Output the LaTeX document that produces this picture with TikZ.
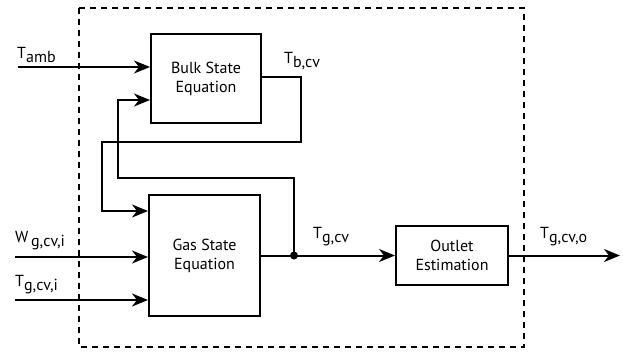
\documentclass[tikz,border=0pt]{standalone}
\usepackage{fontspec}
\setmainfont{PT Sans}
\usepackage{tikz}
\usetikzlibrary{arrows.meta, positioning}

\newcommand{\lowsub}[2]{#1\raisebox{-0.5ex}{#2}}

\begin{document}
\begin{tikzpicture}[
    x=1pt, y=-1pt,
    block/.style={draw, line width=2pt, rectangle, align=center, inner sep=0pt, font=\fontsize{16}{19}\selectfont},
    signal/.style={inner sep=0pt, anchor=south west, font=\fontsize{16}{19}\selectfont},
    flow/.style={-{Stealth[length=16pt, width=13pt, inset=5pt]}, line width=2pt},
    wire/.style={line width=2pt},
    frame/.style={line width=2pt, dash pattern=on 6pt off 5pt}
]
\useasboundingbox (0,0) rectangle (623,354);
\draw[frame] (79,8) rectangle (524,347);

\node[block, minimum width=110pt, minimum height=89pt] (bulk) at (206,78.5) {Bulk State\\Equation};
\node[block, minimum width=111pt, minimum height=121pt] (gas) at (204.5,255.5) {Gas State\\Equation};
\node[block, minimum width=112pt, minimum height=59pt] (outlet) at (452,255.5) {Outlet\\Estimation};

\coordinate (tamb) at (18,67);
\coordinate (win) at (15,257);
\coordinate (tin) at (15,300);
\coordinate (tout) at (620,255.5);
\coordinate (split) at (294,255.5);
\coordinate (bin) at (118,100);

\draw[flow] (tamb) -- (tamb -| bulk.west);
\draw[flow] (win) -- (win -| gas.west);
\draw[flow] (tin) -- (tin -| gas.west);

% feedback loops between the two state equations
\draw[flow] (split) -- (294,178) -| (bin) -- (bin -| bulk.west);
\draw[flow] (bulk.east |- 0,77) -| (301,142) -| (102,211) -- (gas.west |- 0,211);

\draw[wire] (gas.east) -- (split);
\draw[flow] (split) -- (outlet.west);
\fill (split) circle (4pt);
\draw[flow] (outlet.east) -- (tout);

\node[signal] (lamb) at (17,63) {\lowsub{T}{amb}};
\node[signal] (lbcv) at (284,70) {\lowsub{T}{b,cv}};
\node[signal] (lwin) at (15,250) {\lowsub{W}{\,g,cv,i}};
\node[signal] (ltin) at (15,294) {\lowsub{T}{g,cv,i}};
\node[signal] (lgcv) at (313,246) {\lowsub{T}{g,cv}};
\node[signal] (lout) at (540,246) {\lowsub{T}{g,cv,o}};
\end{tikzpicture}
\end{document}
